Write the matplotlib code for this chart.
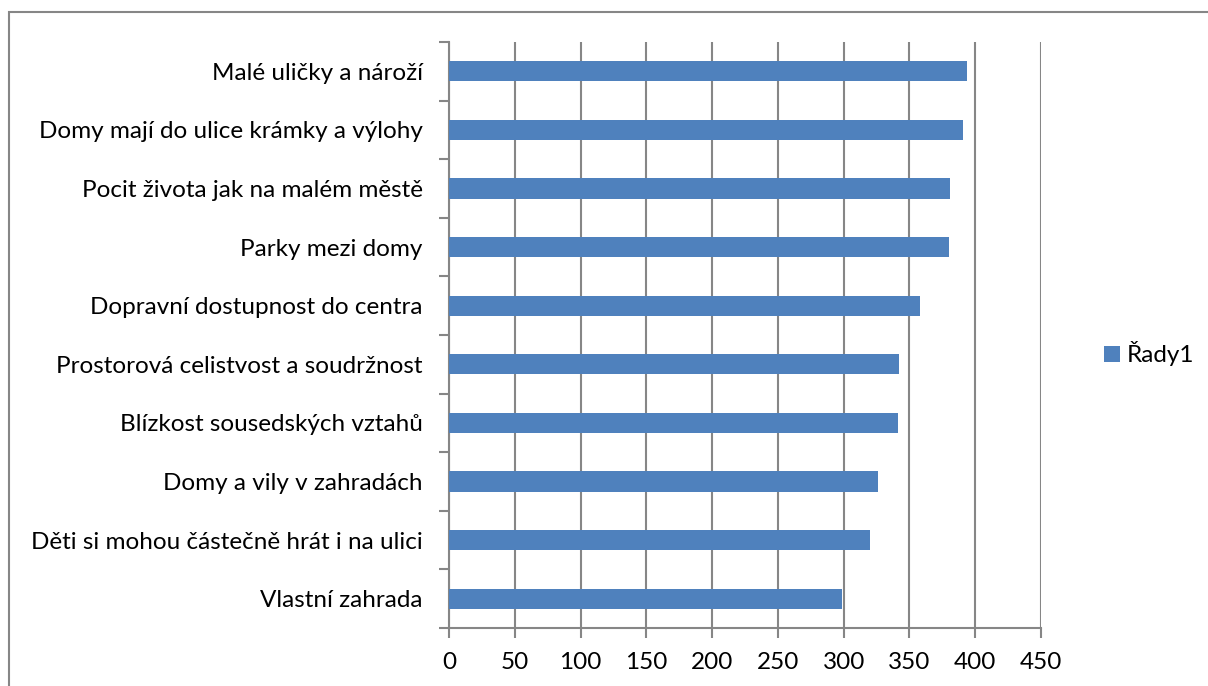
import matplotlib
matplotlib.use("Agg")
import matplotlib.pyplot as plt
from matplotlib.patches import Rectangle

categories = [
    "Malé uličky a nároží",
    "Domy mají do ulice krámky a výlohy",
    "Pocit života jak na malém městě",
    "Parky mezi domy",
    "Dopravní dostupnost do centra",
    "Prostorová celistvost a soudržnost",
    "Blízkost sousedských vztahů",
    "Domy a vily v zahradách",
    "Děti si mohou částečně hrát i na ulici",
    "Vlastní zahrada",
]
values = [394, 391, 381, 380, 358, 342, 341, 326, 320, 299]
series_name = "Řady1"
xticks = [0, 50, 100, 150, 200, 250, 300, 350, 400, 450]

plt.rcParams['font.family'] = ['Lato', 'DejaVu Sans']

W, H = 1208, 686
fig = plt.figure(figsize=(W / 100, H / 100), dpi=100)
ax = fig.add_axes([449 / W, 1 - 628 / H, (1041 - 449) / W, (628 - 42) / H])

bar_color = "#4F81BD"
grid_color = "#868686"
fs = 17.5

n = len(categories)
ypos = list(range(n))[::-1]
bars = ax.barh(ypos, values, height=0.345, color=bar_color, label=series_name, zorder=3)

ax.set_xlim(0, 450)
ax.set_ylim(-0.5, n - 0.5)
ax.set_xticks(xticks)
ax.set_xticklabels([str(t) for t in xticks], fontsize=fs)
ax.set_yticks(ypos)
ax.set_yticklabels(categories, fontsize=fs)
ax.set_yticks([i - 0.5 for i in range(n + 1)], minor=True)

ax.xaxis.grid(True, color=grid_color, linewidth=1.5, zorder=0)
for s in ["top", "right"]:
    ax.spines[s].set_visible(False)
for s in ["left", "bottom"]:
    ax.spines[s].set_color(grid_color)
    ax.spines[s].set_linewidth(1.5)

ax.tick_params(axis="y", which="major", length=0, pad=19)
ax.tick_params(axis="y", which="minor", length=7, width=1.5, color=grid_color)
ax.tick_params(axis="x", length=7, width=1.5, color=grid_color, pad=10)

fig.legend(handles=[bars], labels=[series_name], loc="center left",
           bbox_to_anchor=(1082 / W, 1 - 354 / H), frameon=False, fontsize=fs,
           handlelength=0.65, handleheight=0.65, handletextpad=0.3)

fig.patches.append(Rectangle((9 / W, -0.1), 1.2, 1 - 12 / H + 0.1, transform=fig.transFigure,
                             fill=False, edgecolor="#868686", linewidth=1.5))

fig.savefig("out.png", dpi=100)
